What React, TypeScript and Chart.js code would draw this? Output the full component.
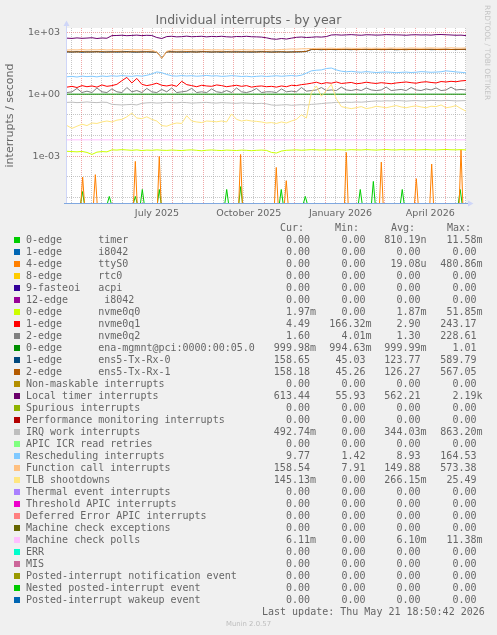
import React, { useEffect, useRef } from "react";
import { Chart, registerables } from "chart.js";

Chart.register(...registerables);

const W = 497;
const H = 635;

// ---------- Legend table ----------
const SERIES_NAMES = [
  "0-edge      timer",
  "1-edge      i8042",
  "4-edge      ttyS0",
  "8-edge      rtc0",
  "9-fasteoi   acpi",
  "12-edge      i8042",
  "0-edge      nvme0q0",
  "1-edge      nvme0q1",
  "2-edge      nvme0q2",
  "0-edge      ena-mgmnt@pci:0000:00:05.0",
  "1-edge      ens5-Tx-Rx-0",
  "2-edge      ens5-Tx-Rx-1",
  "Non-maskable interrupts",
  "Local timer interrupts",
  "Spurious interrupts",
  "Performance monitoring interrupts",
  "IRQ work interrupts",
  "APIC ICR read retries",
  "Rescheduling interrupts",
  "Function call interrupts",
  "TLB shootdowns",
  "Thermal event interrupts",
  "Threshold APIC interrupts",
  "Deferred Error APIC interrupts",
  "Machine check exceptions",
  "Machine check polls",
  "ERR",
  "MIS",
  "Posted-interrupt notification event",
  "Nested posted-interrupt event",
  "Posted-interrupt wakeup event",
];

const SERIES_COLORS = [
  "#00CC00", "#0066B3", "#FF8000", "#FFCC00", "#330099", "#990099", "#CCFF00", "#FF0000",
  "#808080", "#008F00", "#00487D", "#B35A00", "#B38F00", "#6B006B", "#8FB300", "#B30000",
  "#BEBEBE", "#80FF80", "#80C9FF", "#FFC080", "#FFE680", "#AA80FF", "#EE00CC", "#FF8080",
  "#666600", "#FFBFFF", "#00FFCC", "#CC6699", "#999900", "#00CC00", "#0066B3",
];

const CUR = ["0.00", "0.00", "0.00", "0.00", "0.00", "0.00", "1.97m", "4.49", "1.60", "999.98m", "158.65", "158.18", "0.00", "613.44", "0.00", "0.00", "492.74m", "0.00", "9.77", "158.54", "145.13m", "0.00", "0.00", "0.00", "0.00", "6.11m", "0.00", "0.00", "0.00", "0.00", "0.00"];
const MIN = ["0.00", "0.00", "0.00", "0.00", "0.00", "0.00", "0.00", "166.32m", "4.01m", "994.63m", "45.03", "45.26", "0.00", "55.93", "0.00", "0.00", "0.00", "0.00", "1.42", "7.91", "0.00", "0.00", "0.00", "0.00", "0.00", "0.00", "0.00", "0.00", "0.00", "0.00", "0.00"];
const AVG = ["810.19n", "0.00", "19.08u", "0.00", "0.00", "0.00", "1.87m", "2.90", "1.30", "999.99m", "123.77", "126.27", "0.00", "562.21", "0.00", "0.00", "344.03m", "0.00", "8.93", "149.88", "266.15m", "0.00", "0.00", "0.00", "0.00", "6.10m", "0.00", "0.00", "0.00", "0.00", "0.00"];
const MAX = ["11.58m", "0.00", "480.86m", "0.00", "0.00", "0.00", "51.85m", "243.17", "228.61", "1.01", "589.79", "567.05", "0.00", "2.19k", "0.00", "0.00", "863.20m", "0.00", "164.53", "573.38", "25.49", "0.00", "0.00", "0.00", "0.00", "11.38m", "0.00", "0.00", "0.00", "0.00", "0.00"];

const TITLE = "Individual interrupts - by year";
const Y_TITLE = "interrupts / second";
const LAST_UPDATE = "Last update: Thu May 21 18:50:42 2026";
const WATERMARK = "Munin 2.0.57";
const SIDE_TEXT = "RRDTOOL / TOBI OETIKER";

// ---------- Time series (one sample every 5 days over 400 days) ----------
const SAMPLE_STEP_DAYS = 5;

const LOCAL_TIMER = [
  520, 505, 535, 510, 525, 545, 500, 530, 515,
  690,
  700, 720, 685, 705, 730, 690, 715, 700,
  560, 500,
  620, 640, 600, 615, 650, 610, 625, 640, 600, 630, 615, 640, 605, 590, 625, 615, 640, 610, 600, 585,
  540, 480, 460, 500, 470, 520,
  570, 590, 560, 575, 600, 585, 620,
  740, 760, 730, 750, 770, 740, 720, 760, 750, 730, 740, 770, 760, 750, 740, 720, 750, 760, 740, 750, 730, 770, 780, 760, 740, 720, 730, 690,
];

const RX0 = [
  112, 110, 115, 108, 113, 111, 116, 109, 112, 114, 110, 113, 117, 111, 109, 114, 112, 110, 108,
  60,
  112, 115, 110, 113, 109, 114, 111, 116, 112, 110, 113, 108, 115, 111, 114, 110, 112, 109, 113, 116, 111, 110, 114, 112, 108, 113, 111, 115, 118,
  145, 148, 142, 150, 146, 144, 149, 147, 143, 151, 146, 148, 144, 150, 147, 145, 149, 143, 146, 152, 148, 145, 147, 150, 144, 146, 149, 151, 147, 145, 148, 150,
];

const RX1 = [
  114, 112, 111, 116, 110, 113, 112, 115, 110, 111, 115, 112, 110, 114, 113, 110, 115, 112, 111,
  55,
  114, 111, 113, 110, 116, 112, 110, 113, 115, 111, 112, 114, 110, 113, 109, 115, 111, 114, 110, 112, 115, 111, 109, 114, 112, 110, 115, 113, 120,
  148, 146, 150, 144, 149, 147, 145, 151, 148, 144, 147, 150, 146, 149, 144, 148, 151, 145, 147, 143, 149, 150, 146, 148, 152, 147, 145, 149, 146, 150, 148, 151,
];

const FUNC_CALL = [
  138, 142, 140, 145, 139, 143, 141, 146, 140, 142, 144, 139, 147, 141, 143, 140, 145, 138,
  110, 57, 120,
  140, 143, 139, 144, 141, 138, 142, 145, 140, 143, 139, 146, 141, 140, 144, 142, 139, 143, 141, 145, 140, 142, 147, 150, 155, 152, 158, 160,
  162, 165, 168, 166, 170, 164, 167, 171, 168, 165, 169, 172, 167, 170, 166, 168, 173, 169, 171, 167, 174, 170, 168, 172, 175, 171, 169, 173, 176, 172, 170, 174,
];

const RESCHED = [
  7.0, 7.3, 6.8, 7.5, 7.1, 7.4, 6.9, 7.6, 7.2, 7.8, 7.4, 8.0, 7.6, 7.3, 7.9, 7.5, 8.2, 9.5,
  12.0, 11.0, 9.0,
  7.8, 7.5, 8.0, 7.6, 7.9, 7.4, 7.7, 8.1, 7.6, 7.8, 7.3, 7.5, 7.9, 7.6, 7.2, 7.4, 7.0, 7.3, 7.6, 7.2, 7.5, 7.8, 7.4, 7.7, 8.0, 7.6, 8.3,
  10.5, 13.5, 14.5, 15.0, 17.5, 18.5, 15.0, 13.0,
  12.2, 12.8, 12.0, 11.6, 12.4, 11.8, 11.2, 11.6, 12.0, 11.5, 11.0, 11.4, 11.8, 11.2, 11.6, 12.4, 12.0, 11.5, 11.8, 12.2, 13.5, 12.8, 12.0, 11.5, 10.8,
];

const NVME_Q1 = [
  2.2, 2.4, 2.1, 2.6, 2.3, 2.5, 2.2, 2.8, 2.4, 2.6, 3.0,
  4.5, 6.5, 3.5, 5.8, 3.0, 2.6, 2.9, 3.4, 2.7,
  2.5, 2.8, 2.4, 4.2, 2.9, 2.6, 2.3, 2.7, 2.5, 2.4, 2.8, 2.6, 2.3, 2.5, 2.7, 2.4, 2.6, 2.2, 2.4, 2.5, 2.3,
  2.4, 2.2, 2.5, 2.3, 2.7, 2.6, 2.9, 3.1,
  3.4, 3.8, 3.2, 3.6, 3.4, 3.9, 3.3, 3.5, 3.7, 3.2, 3.4, 3.8, 3.5, 3.3, 3.6, 3.4, 3.2, 3.5, 3.7, 3.9, 3.6, 3.4, 3.8, 4.0, 3.7, 3.5, 4.1, 3.9, 4.2, 4.0, 4.4, 4.6,
];

const NVME_Q2 = [
  1.2, 1.3, 1.9, 1.2, 1.4, 1.2, 2.0, 1.3, 1.2, 1.8, 1.3, 1.2, 2.1, 1.3, 1.5, 1.2, 1.9, 1.3, 1.2, 1.7,
  1.3, 2.0, 1.2, 1.3, 1.4, 1.9, 1.2, 1.3, 1.2, 1.8, 1.3, 1.2, 1.5, 1.2, 2.0, 1.3, 1.2, 1.4, 1.9, 1.2,
  1.3, 1.3, 1.2, 1.8, 1.3, 1.4, 1.3, 2.1, 1.4,
  1.5, 1.6, 2.1, 1.5, 1.6, 1.5, 2.2, 1.6, 1.5, 1.7, 1.5, 2.0, 1.6, 1.5, 1.6, 2.2, 1.5, 1.6, 1.7, 1.5, 2.1, 1.6, 1.5, 1.8, 1.6, 2.0, 1.5, 1.6, 2.2, 1.6, 1.7, 1.6,
];

const IRQ_WORK = [
  0.40, 0.41, 0.39, 0.40, 0.42, 0.40, 0.39, 0.41, 0.40,
  0.32, 0.31, 0.30, 0.31, 0.32, 0.30,
  0.36, 0.38, 0.39, 0.37, 0.38, 0.40, 0.39, 0.38, 0.40, 0.39, 0.37, 0.38, 0.39, 0.40, 0.38, 0.37, 0.39, 0.38, 0.37, 0.36, 0.38, 0.37, 0.36, 0.35, 0.36, 0.34,
  0.30, 0.29, 0.30, 0.31, 0.29, 0.30, 0.31, 0.30, 0.32, 0.33,
  0.35, 0.37, 0.38, 0.40, 0.39, 0.41, 0.40, 0.42, 0.41, 0.43,
  0.45, 0.47, 0.46, 0.48, 0.47, 0.49, 0.48, 0.46, 0.48, 0.49, 0.47, 0.48, 0.50, 0.49, 0.48, 0.50, 0.49, 0.47, 0.48, 0.49,
];

const TLB = [
  0.030, 0.022, 0.028, 0.035, 0.030, 0.040, 0.038, 0.045, 0.050, 0.045,
  0.055, 0.060, 0.080, 0.120, 0.070, 0.065, 0.080, 0.060, 0.050, 0.030,
  0.028, 0.035, 0.040, 0.038, 0.090, 0.050, 0.045, 0.042, 0.050, 0.048,
  0.046, 0.050, 0.045, 0.110, 0.060, 0.050, 0.055, 0.050, 0.048, 0.045,
  0.040, 0.042, 0.038, 0.045, 0.040, 0.050, 0.060, 0.100, 0.070, 1.2,
  2.5, 0.8, 1.5, 3.0, 0.6, 0.25, 0.22, 0.20, 0.22, 0.25,
  0.20, 0.22, 0.26, 0.24, 0.22, 0.25, 0.28, 0.24, 0.22, 0.25,
  0.27, 0.24, 0.22, 0.26, 0.25, 0.30, 0.22, 0.24, 0.28, 0.20,
  0.15,
];

const NVME_Q0 = [
  0.00170, 0.00165, 0.00160, 0.00168, 0.00150, 0.00120, 0.00155, 0.00165, 0.00160,
  0.00200, 0.00195, 0.00205, 0.00198, 0.00190, 0.00200, 0.00185, 0.00195, 0.00190, 0.00200,
  0.00192, 0.00188, 0.00196, 0.00190, 0.00185, 0.00195, 0.00200, 0.00190, 0.00180, 0.00192,
  0.00198, 0.00190, 0.00185, 0.00195, 0.00190, 0.00186, 0.00194, 0.00190, 0.00182, 0.00190,
  0.00195, 0.00188, 0.00150, 0.00140, 0.00175, 0.00190, 0.00195, 0.00200, 0.00192, 0.00198,
  0.00205, 0.00200, 0.00195, 0.00202, 0.00198, 0.00205, 0.00200, 0.00196, 0.00204, 0.00200,
  0.00198, 0.00206, 0.00200, 0.00195, 0.00202, 0.00208, 0.00200, 0.00198, 0.00205, 0.00200,
  0.00204, 0.00198, 0.00202, 0.00206, 0.00200, 0.00198, 0.00204, 0.00208, 0.00202, 0.00200,
  0.00205, 0.00198,
];

// Flat series sampled every 50 days
const FLAT_DAYS = [0, 50, 100, 150, 200, 250, 300, 350, 400];
const ENA_MGMNT = [1.0, 1.0, 1.0, 1.0, 1.0, 1.0, 1.0, 1.0, 1.0];
const MC_POLLS = [0.0061, 0.0061, 0.0061, 0.0061, 0.0061, 0.0061, 0.0061, 0.0061, 0.0061];

// Sparse bursts (day offset in the 400-day window, rate)
const TTYS0_DAYS = [15.7, 28.4, 68.5, 92.5, 174.0, 209.8, 219.8, 280.0, 315.1, 350.2, 365.6, 395.0];
const TTYS0_PEAKS = [9.5e-5, 1.25e-4, 5.5e-4, 9.6e-4, 1.2e-3, 2.8e-4, 6.4e-5, 1.5e-3, 5.1e-4, 8e-5, 4.1e-4, 2.0e-3];
const TIMER_DAYS = [15.5, 42.4, 68.5, 75.5, 92.5, 160.1, 174.1, 214.8, 238.9, 294.0, 307.1, 336.1, 394.2];
const TIMER_PEAKS = [1.9e-5, 1.1e-5, 1.1e-5, 2.4e-5, 2.4e-5, 2.4e-5, 3.3e-5, 2.4e-5, 1.1e-5, 2.4e-5, 5.9e-5, 2.4e-5, 2.4e-5];
const BURST_HALF_WIDTH_DAYS = 1.8;

// ---------- Axes ----------
const RANGE_DAYS = 400;
const RANGE_END_MS = Date.UTC(2026, 4, 21, 18, 50, 42);
const RANGE_START_MS = RANGE_END_MS - RANGE_DAYS * 86400000;
const Y_MIN = 5.3e-6;
const Y_MAX = 1615;
const Y_TICK_VALUES = [1e-5, 1e-4, 1e-3, 1e-2, 1e-1, 1e0, 1e1, 1e2, 1e3];
const Y_TICK_LABELS = ["", "", "1e-03", "", "", "1e+00", "", "", "1e+03"];
const X_LABELS = ["July 2025", "October 2025", "January 2026", "April 2026"];
const X_LABEL_MONTHS = [[2025, 6], [2025, 9], [2026, 0], [2026, 3]];
const MINOR_GRID_DAYS = [11, 21];

const FONT_COLOR = "#666666";
const GRID_COLOR = "rgba(144,144,144,0.5)";
const MGRID_COLOR = "rgba(224,80,80,0.5)";
const AXIS_COLOR = "#CFD6F8";

const dayOf = (y: number, m: number, d: number) => (Date.UTC(y, m, d) - RANGE_START_MS) / 86400000;

function buildXTicks() {
  const ticks: any[] = [];
  for (let k = 0; k < 15; k++) {
    const yr = 2025 + Math.floor((3 + k) / 12);
    const mo = (3 + k) % 12;
    const major = dayOf(yr, mo, 1);
    if (major >= 0 && major <= RANGE_DAYS) ticks.push({ value: major, kind: "major" });
    MINOR_GRID_DAYS.forEach((dd) => {
      const v = dayOf(yr, mo, dd);
      if (v >= 0 && v <= RANGE_DAYS) ticks.push({ value: v, kind: "minor" });
    });
  }
  X_LABEL_MONTHS.forEach(([yr, mo], i) => {
    ticks.push({ value: dayOf(yr, mo, 1) + 15, kind: "label", text: X_LABELS[i] });
  });
  ticks.sort((a, b) => a.value - b.value);
  return ticks;
}

const sampled = (values: number[]) => values.map((v, i) => ({ x: i * SAMPLE_STEP_DAYS, y: v }));
const flat = (values: number[]) => values.map((v, i) => ({ x: FLAT_DAYS[i], y: v }));
const bursts = (days: number[], peaks: number[]) => {
  const pts: any[] = [];
  days.forEach((d, k) => {
    pts.push(
      { x: d - BURST_HALF_WIDTH_DAYS, y: Y_MIN },
      { x: d, y: peaks[k] },
      { x: d + BURST_HALF_WIDTH_DAYS, y: Y_MIN },
      { x: d + BURST_HALF_WIDTH_DAYS + 0.1, y: null }
    );
  });
  return pts;
};

function makeDatasets() {
  const entries: [number, any[]][] = [
    [0, bursts(TIMER_DAYS, TIMER_PEAKS)],
    [2, bursts(TTYS0_DAYS, TTYS0_PEAKS)],
    [6, sampled(NVME_Q0)],
    [7, sampled(NVME_Q1)],
    [8, sampled(NVME_Q2)],
    [9, flat(ENA_MGMNT)],
    [10, sampled(RX0)],
    [11, sampled(RX1)],
    [13, sampled(LOCAL_TIMER)],
    [16, sampled(IRQ_WORK)],
    [18, sampled(RESCHED)],
    [19, sampled(FUNC_CALL)],
    [20, sampled(TLB)],
    [25, flat(MC_POLLS)],
  ];
  return entries.map(([idx, data]) => ({
    label: SERIES_NAMES[idx],
    data,
    borderColor: SERIES_COLORS[idx],
    backgroundColor: SERIES_COLORS[idx],
    borderWidth: 1,
    pointRadius: 0,
    tension: 0,
    fill: false,
    spanGaps: false,
    order: -idx,
  }));
}

const framePlugin = {
  id: "muninFrame",
  beforeDraw(chart: any) {
    const { ctx, chartArea: a } = chart;
    ctx.save();
    ctx.fillStyle = "#ffffff";
    ctx.fillRect(a.left, a.top, a.right - a.left, a.bottom - a.top);
    ctx.restore();
  },
  afterDatasetsDraw(chart: any) {
    const { ctx, chartArea: a } = chart;
    ctx.save();
    // y axis
    ctx.strokeStyle = AXIS_COLOR;
    ctx.lineWidth = 1;
    ctx.beginPath();
    ctx.moveTo(a.left - 0.5, a.bottom + 1);
    ctx.lineTo(a.left - 0.5, a.top - 2);
    ctx.stroke();
    ctx.fillStyle = AXIS_COLOR;
    ctx.beginPath();
    ctx.moveTo(a.left - 3.5, a.top - 2);
    ctx.lineTo(a.left + 2.5, a.top - 2);
    ctx.lineTo(a.left - 0.5, a.top - 7.5);
    ctx.closePath();
    ctx.fill();
    // x axis
    ctx.strokeStyle = "#80a8e0";
    ctx.beginPath();
    ctx.moveTo(a.left - 3, a.bottom + 0.5);
    ctx.lineTo(a.right + 2, a.bottom + 0.5);
    ctx.stroke();
    ctx.fillStyle = AXIS_COLOR;
    ctx.beginPath();
    ctx.moveTo(a.right + 2, a.bottom - 2.5);
    ctx.lineTo(a.right + 2, a.bottom + 3.5);
    ctx.lineTo(a.right + 7.5, a.bottom + 0.5);
    ctx.closePath();
    ctx.fill();
    ctx.restore();
  },
};

const COL_RIGHT = [316, 371.5, 426.5, 482.5];
const HEAD_LEFT = [280, 335, 391, 447];
const HEADERS = ["Cur:", "Min:", "Avg:", "Max:"];
const ROW0_TOP = 234;
const ROW_H = 12;

const withUnit = (s: string) => (/[a-zA-Z]$/.test(s) ? s : s + " ");

export default function App() {
  const ref = useRef<HTMLCanvasElement | null>(null);

  useEffect(() => {
    if (!ref.current) return;
    const chart = new Chart(ref.current, {
      type: "line",
      data: { datasets: makeDatasets() as any },
      options: {
        animation: false,
        responsive: false,
        devicePixelRatio: 1,
        layout: { padding: { left: 0, right: 31, top: 28, bottom: 0 } },
        plugins: {
          legend: { display: false },
          tooltip: { enabled: false },
          title: { display: false },
        },
        elements: { point: { radius: 0 }, line: { borderWidth: 1 } },
        scales: {
          x: {
            type: "linear",
            min: 0,
            max: RANGE_DAYS,
            afterBuildTicks: (scale: any) => {
              scale.ticks = buildXTicks();
            },
            afterFit: (scale: any) => {
              scale.height = H - 203;
            },
            grid: {
              drawTicks: false,
              lineWidth: 1,
              color: (c: any) =>
                c.tick && c.tick.kind === "major"
                  ? MGRID_COLOR
                  : c.tick && c.tick.kind === "minor"
                  ? GRID_COLOR
                  : "rgba(0,0,0,0)",
            },
            border: { display: false, dash: [1, 1] },
            ticks: {
              autoSkip: false,
              maxRotation: 0,
              minRotation: 0,
              padding: 4.5,
              color: FONT_COLOR,
              font: { family: "DejaVu Sans", size: 9.5 },
              callback: (v: any, i: number, ticks: any[]) =>
                ticks[i] && ticks[i].kind === "label" ? ticks[i].text : "",
            },
          },
          y: {
            type: "logarithmic",
            min: Y_MIN,
            max: Y_MAX,
            afterBuildTicks: (scale: any) => {
              scale.ticks = Y_TICK_VALUES.map((v, i) => ({ value: v, label: Y_TICK_LABELS[i], major: Y_TICK_LABELS[i] !== "" }));
            },
            afterFit: (scale: any) => {
              scale.width = 67;
            },
            grid: {
              drawTicks: false,
              lineWidth: 1,
              color: (c: any) => (c.tick && c.tick.major ? MGRID_COLOR : GRID_COLOR),
            },
            border: { display: false, dash: [1, 1] },
            ticks: {
              autoSkip: false,
              padding: 7,
              color: FONT_COLOR,
              font: { family: "DejaVu Sans", size: 9.5 },
              callback: (v: any, i: number) => Y_TICK_LABELS[i] ?? "",
            },
            title: {
              display: true,
              text: Y_TITLE,
              color: FONT_COLOR,
              font: { family: "DejaVu Sans", size: 11 },
              padding: { top: 4, bottom: 0 },
            },
          },
        },
      } as any,
      plugins: [framePlugin],
    });
    return () => chart.destroy();
  }, []);

  const mono = '10px "DejaVu Sans Mono", monospace';

  return (
    <div
      style={{
        position: "fixed",
        left: 0,
        top: 0,
        width: W,
        height: H,
        background: "#f0f0f0",
        overflow: "hidden",
        fontFamily: '"DejaVu Sans", sans-serif',
      }}
    >
      <canvas ref={ref} width={W} height={H} style={{ position: "absolute", left: 0, top: 0, width: W, height: H }} />
      <div
        style={{
          position: "absolute",
          left: 0,
          top: 12,
          width: W,
          textAlign: "center",
          fontSize: 12.5,
          lineHeight: "15px",
          color: FONT_COLOR,
          whiteSpace: "nowrap",
        }}
      >
        {TITLE}
      </div>
      <div
        style={{
          position: "absolute",
          left: 483,
          top: 5,
          writingMode: "vertical-rl",
          fontSize: 7.4,
          lineHeight: "9px",
          color: "#c4c4c4",
          whiteSpace: "nowrap",
        }}
      >
        {SIDE_TEXT}
      </div>
      {HEADERS.map((h, k) => (
        <div
          key={"h" + k}
          style={{ position: "absolute", left: HEAD_LEFT[k], top: ROW0_TOP - ROW_H, font: mono, lineHeight: "12px", color: FONT_COLOR, whiteSpace: "pre" }}
        >
          {h}
        </div>
      ))}
      {SERIES_NAMES.map((name, i) => {
        const top = ROW0_TOP + i * ROW_H;
        const cols = [CUR[i], MIN[i], AVG[i], MAX[i]];
        return (
          <React.Fragment key={i}>
            <div style={{ position: "absolute", left: 14, top: top + 3, width: 6, height: 6, background: SERIES_COLORS[i] }} />
            <div style={{ position: "absolute", left: 26, top, font: mono, lineHeight: "12px", color: FONT_COLOR, whiteSpace: "pre" }}>{name}</div>
            {cols.map((c, k) => (
              <div
                key={k}
                style={{ position: "absolute", right: W - COL_RIGHT[k], top, font: mono, lineHeight: "12px", color: FONT_COLOR, whiteSpace: "pre", textAlign: "right" }}
              >
                {withUnit(c)}
              </div>
            ))}
          </React.Fragment>
        );
      })}
      <div
        style={{ position: "absolute", left: 262, top: ROW0_TOP + SERIES_NAMES.length * ROW_H, font: mono, lineHeight: "12px", color: FONT_COLOR, whiteSpace: "pre" }}
      >
        {LAST_UPDATE}
      </div>
      <div
        style={{ position: "absolute", left: 0, width: W, top: 619, textAlign: "center", fontSize: 6.9, lineHeight: "10px", color: "#bdbdbd", whiteSpace: "nowrap" }}
      >
        {WATERMARK}
      </div>
    </div>
  );
}
